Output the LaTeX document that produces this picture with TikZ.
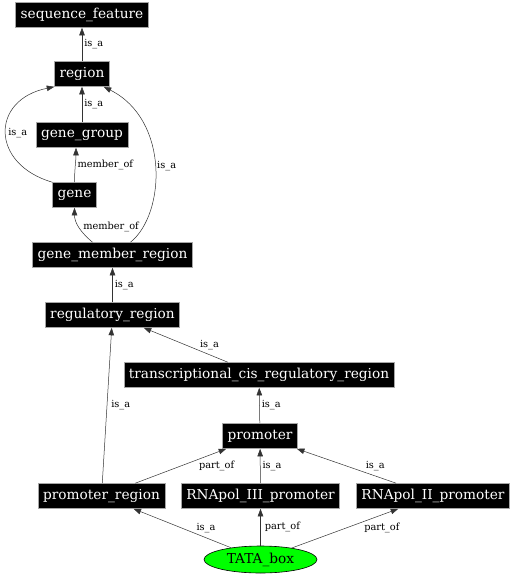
\documentclass[tikz,border=0pt]{standalone}
\usepackage{fontspec}
\setmainfont{DejaVu Serif}
\usetikzlibrary{arrows.meta,shapes.geometric}

\tikzset{
  term/.style={rectangle, fill=black, draw=gray!70, line width=0.6pt, text=white,
    minimum height=25pt, inner xsep=5pt, font=\fontsize{13.7}{16}\selectfont},
  rel/.style={-{Triangle[length=7.5pt,width=5.5pt]}, draw=black!80, line width=0.5pt},
  lbl/.style={right, inner sep=2pt, text=black, font=\fontsize{9.8}{11}\selectfont}
}

\begin{document}
\begin{tikzpicture}[x=1pt,y=-1pt]
        \useasboundingbox (0,0) rectangle (515,576);
        % terms
        \node[term] (seqfeat)   at (82,15)  {sequence\_feature};
        \node[term] (region)    at (82,74)  {region};
        \node[term] (genegroup) at (82,135) {gene\_group};
        \node[term] (gene)      at (74.5,195) {gene};
        \node[term] (gmr)       at (112.5,255) {gene\_member\_region};
        \node[term] (regreg)    at (112.5,315) {regulatory\_region};
        \node[term] (tcrr)      at (259,375) {transcriptional\_cis\_regulatory\_region};
        \node[term] (promoter)  at (260,436) {promoter};
        \node[term] (promreg)   at (101.5,496) {promoter\_region};
        \node[term] (pol3)      at (260.5,496) {RNApol\_III\_promoter};
        \node[term] (pol2)      at (433,496) {RNApol\_II\_promoter};
        \node[ellipse, draw=black, fill=green, line width=0.6pt, minimum width=113pt,
              minimum height=27pt, inner sep=0pt, font=\fontsize{13.7}{16}\selectfont]
              (tata) at (260.5,559.5) {TATA\_box};
        % straight relations
        \foreach \a/\b/\l/\s in {region/seqfeat/is\_a/0, genegroup/region/is\_a/0,
            regreg/gmr/is\_a/0, tcrr/regreg/is\_a/12, promoter/tcrr/is\_a/0,
            promreg/regreg/is\_a/2, promreg/promoter/part\_of/16, pol3/promoter/is\_a/0,
            pol2/promoter/is\_a/17, tata/promreg/is\_a/12, tata/pol3/part\_of/2,
            tata/pol2/part\_of/17}
        {   \draw[rel] (\a) -- node[lbl, xshift=\s pt] {\l} (\b);
        }
        % curved relations
        \draw[rel] (gene.north west) .. controls +(-62,-18) and +(-64,13) .. node[lbl] {is\_a} (region.south west);
        \draw[rel] (gene.north) .. controls +(0,-12) and +(0,12) .. node[lbl] {member\_of} ([xshift=-6pt]genegroup.south);
        \draw[rel] ([xshift=-20pt]gmr.north) .. controls +(-12,-10) and +(0,15) .. node[lbl, xshift=2pt] {member\_of} (gene.south);
        \draw[rel] ([xshift=18pt]gmr.north) .. controls +(35,-28) and +(66,33) .. node[lbl] {is\_a} ([xshift=-6pt]region.south east);
\end{tikzpicture}
\end{document}
